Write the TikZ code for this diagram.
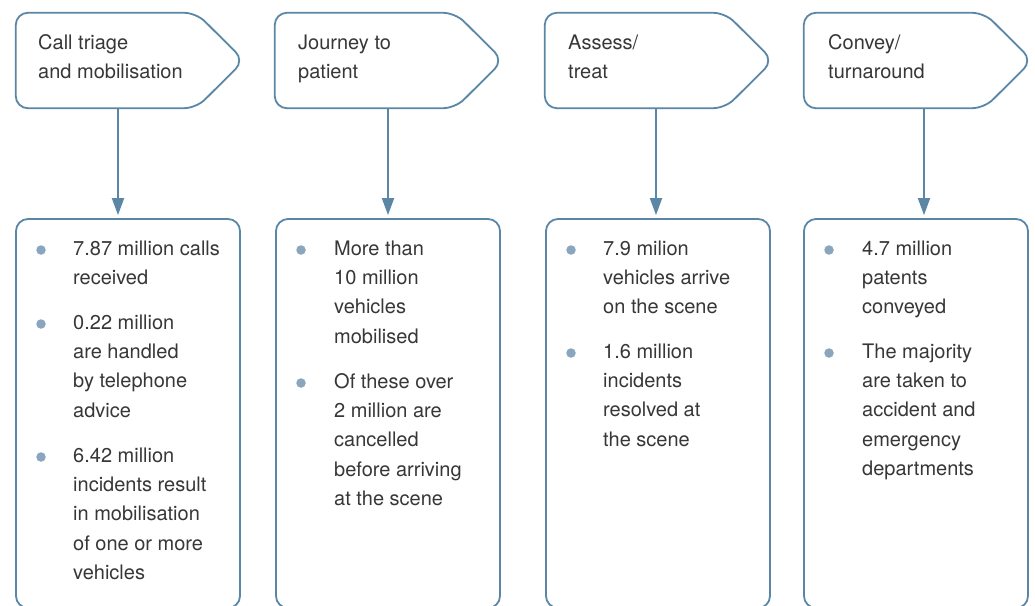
\documentclass[tikz,border=0pt]{standalone}
\usepackage{fontspec}
\setmainfont{TeX Gyre Heros}
\usetikzlibrary{arrows.meta}
\definecolor{edgeblue}{RGB}{90,135,166}
\definecolor{dotblue}{RGB}{138,166,190}
\definecolor{inkgrey}{RGB}{55,55,55}
\newcommand{\linestrut}{\rule{0pt}{20pt}}
\tikzset{
  stagebody/.style={draw=none, minimum width=224pt, minimum height=95pt, inner sep=0pt},
  stageoutline/.style={draw=edgeblue, line width=1.8pt, rounded corners=12pt, fill=white},
  panel/.style={draw=edgeblue, line width=1.8pt, rounded corners=12pt, fill=white,
    minimum width=224pt, minimum height=389pt, inner sep=0pt},
  label/.style={anchor=north west, inner sep=0pt, align=left, text=inkgrey,
    font=\fontsize{20}{28.5}\selectfont},
  item/.style={anchor=north west, inner sep=0pt, align=left, text=inkgrey,
    font=\fontsize{20}{29.3}\selectfont},
  dot/.style={circle, fill=dotblue, draw=none, minimum size=9.5pt, inner sep=0pt},
  conn/.style={draw=edgeblue, line width=1.8pt,
    -{Triangle[width=12pt,length=17pt]}, shorten >=3pt}
}
\begin{document}
\begin{tikzpicture}[x=1pt, y=-1pt]
\clip (0,0) rectangle (1035,605);
\fill[white] (0,0) rectangle (1035,605);

% stage headers: pointed boxes
\foreach \n/\cx in {1/128, 2/387, 3/657, 4/916} {
  \node[stagebody] (top\n) at (\cx,60.5) {};
  \draw[stageoutline] (top\n.north west) -- ([xshift=-44pt]top\n.north east)
    -- ([xshift=4pt]top\n.east) -- ([xshift=-44pt]top\n.south east)
    -- (top\n.south west) -- cycle;
}
\node[label] (h1) at (38,29.5)  {\linestrut Call triage\\and mobilisation};
\node[label] (h2) at (298,29.5) {\linestrut Journey to\\patient};
\node[label] (h3) at (568,29.5) {\linestrut Assess/\\treat};
\node[label] (h4) at (828,29.5) {\linestrut Convey/\\turnaround};

% detail panels
\node[panel] (bot1) at (128,413.5) {};
\node[panel] (bot2) at (388,413.5) {};
\node[panel] (bot3) at (658,413.5) {};
\node[panel] (bot4) at (916,413.5) {};

% connectors
\draw[conn] ([xshift=-10pt]top1.south) -- ([xshift=-10pt]bot1.north);
\draw[conn] ([xshift=1pt]top2.south) -- ([xshift=0pt]bot2.north);
\draw[conn] ([xshift=-1pt]top3.south) -- ([xshift=-2pt]bot3.north);
\draw[conn] ([xshift=8pt]top4.south) -- ([xshift=8pt]bot4.north);

% panel 1
\node[dot] (d11) at (41,250) {};
\node[item] (t11) at (73,235) {\linestrut 7.87 million calls\\received};
\node[dot] (d12) at (41,324) {};
\node[item] (t12) at (73,309) {\linestrut 0.22 million\\are handled\\by telephone\\advice};
\node[dot] (d13) at (41,457) {};
\node[item] (t13) at (73,442) {\linestrut 6.42 million\\incidents result\\in mobilisation\\of one or more\\vehicles};

% panel 2
\node[dot] (d21) at (301,250) {};
\node[item] (t21) at (334,235) {\linestrut More than\\10 million\\vehicles\\mobilised};
\node[dot] (d22) at (301,383) {};
\node[item] (t22) at (334,368) {\linestrut Of these over\\2 million are\\cancelled\\before arriving\\at the scene};

% panel 3
\node[dot] (d31) at (571,250) {};
\node[item] (t31) at (603,235) {\linestrut 7.9 milion\\vehicles arrive\\on the scene};
\node[dot] (d32) at (571,353) {};
\node[item] (t32) at (603,338) {\linestrut 1.6 million\\incidents\\resolved at\\the scene};

% panel 4
\node[dot] (d41) at (829,250) {};
\node[item] (t41) at (862,235) {\linestrut 4.7 million\\patents\\conveyed};
\node[dot] (d42) at (829,353) {};
\node[item] (t42) at (862,338) {\linestrut The majority\\are taken to\\accident and\\emergency\\departments};
\end{tikzpicture}
\end{document}
